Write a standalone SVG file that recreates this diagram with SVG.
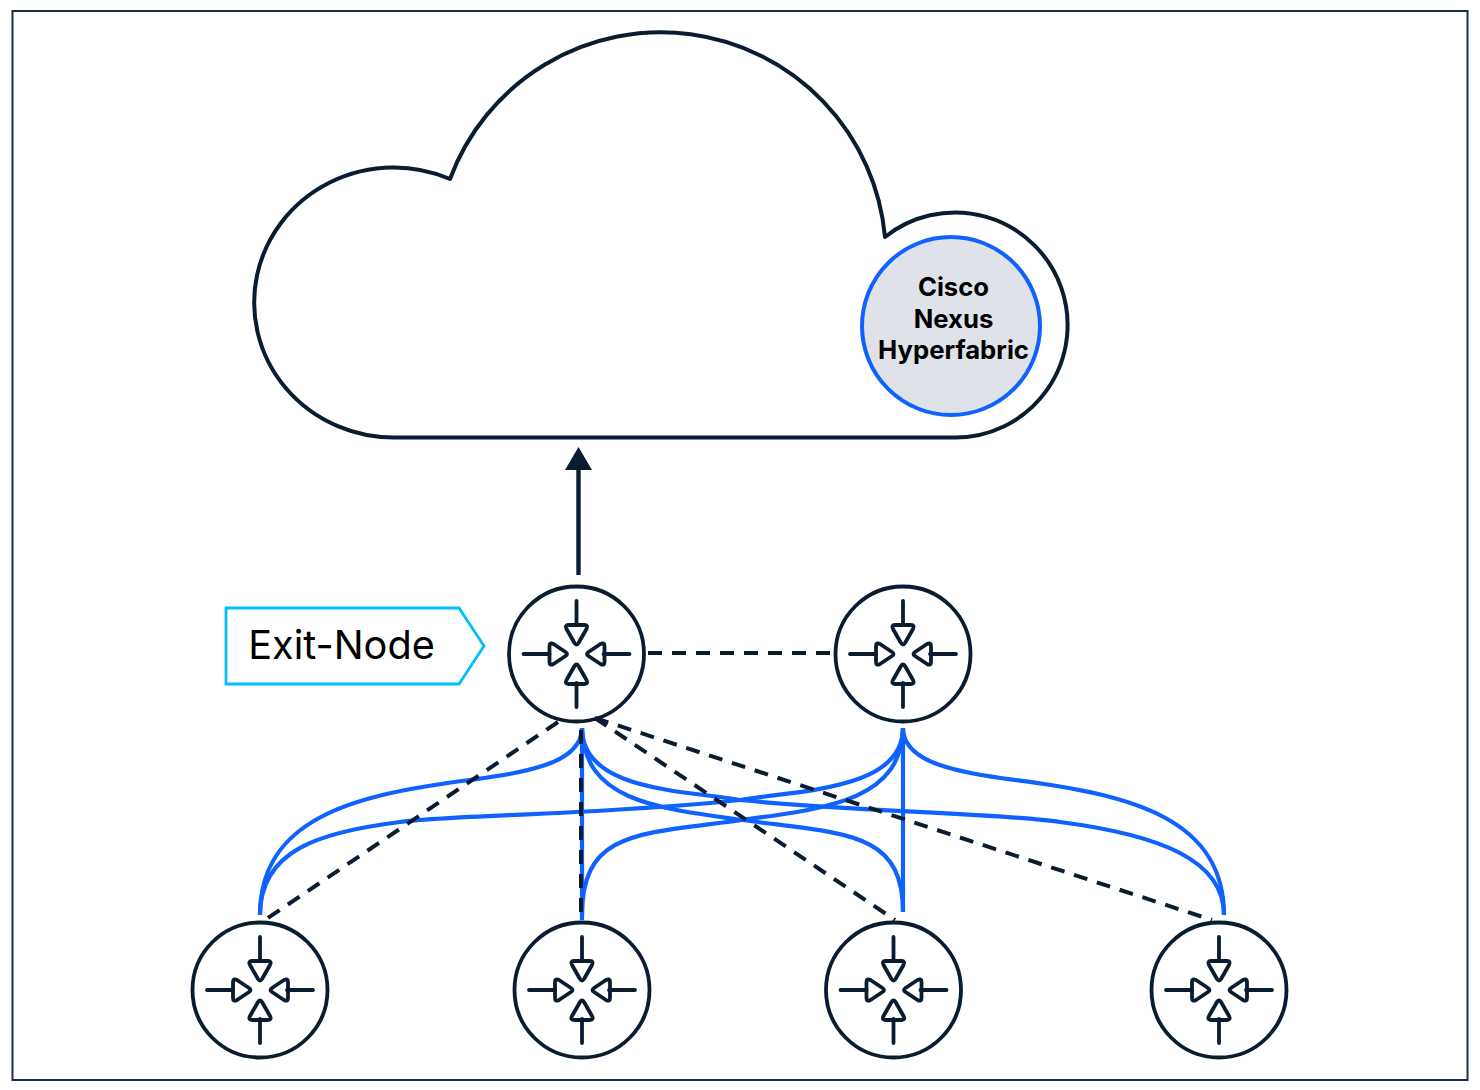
<svg xmlns="http://www.w3.org/2000/svg" width="1480" height="1090" viewBox="0 0 1480 1090">
<style>
.d{fill:none;stroke:#0a1c30;stroke-width:3.8;stroke-linejoin:round;stroke-linecap:round}
.b{fill:none;stroke:#0f62fe;stroke-width:4.2}
.k{fill:none;stroke:#0a1c30;stroke-width:4;stroke-dasharray:14 10}
.t{font-family:"Inter","Liberation Sans",sans-serif;fill:#000;text-anchor:middle}
</style>
<defs>
<g id="router">
<circle class="d" r="67.500"/>
<path class="d" d="M0-53V-29M0 53V29M-53 0H-27M53 0H27"/>
<path class="d" d="M-8-29H8Q12-29 10-25L2-11Q0-8-2-11L-10-25Q-12-29-8-29Z"/>
<path class="d" d="M-8 30H8Q12 30 10 26L2 12Q0 9-2 12L-10 26Q-12 30-8 30Z"/>
<path class="d" d="M-27-8V8Q-27 12-23 10L-11 2Q-8 0-11-2L-23-10Q-27-12-27-8Z"/>
<path class="d" d="M28-8V8Q28 12 24 10L12 2Q9 0 12-2L24-10Q28-12 28-8Z"/>
</g>
</defs>
<rect width="1480" height="1090" fill="#fff"/>
<rect x="12.500" y="11" width="1455" height="1069" fill="none" stroke="#1c2f42" stroke-width="2"/>
<g id="cloud">
<path d="M450 179A225 225 0 0 1 885 237A112.500 112.500 0 1 1 955 437.500L395 437.500A139.500 135 0 1 1 450 179Z" fill="#fff" stroke="#0a1c30" stroke-width="4" stroke-linejoin="round"/>
</g>
<g id="connectors">
<path class="b" d="M582 728V920"/>
<path class="b" d="M903 728V912"/>
<path class="b" d="M582 728C582 765 520 773 470 780C350 795 260 820 260 915"/>
<path class="b" d="M903 728C903 790 800 790 740 800C600 815 450 815 400 822C320 832 260 850 260 915"/>
<path class="b" d="M582 728C584 800 654 808 742 820C844 834 903 830 903 912"/>
<path class="b" d="M582 728C582 790 680 790 740 800C860 812 1000 813 1060 822C1160 835 1224 860 1224 915"/>
<path class="b" d="M903 728C901 800 830 808 742 820C640 834 582 830 582 915"/>
<path class="b" d="M903 728C903 765 965 773 1015 780C1135 795 1224 820 1224 915"/>
<path class="k" d="M648 653H836"/>
<path class="k" d="M558 722L262 922"/>
<path class="k" d="M581 730V922"/>
<path class="k" d="M595 718L895 920"/>
<path class="k" d="M595 718L1212 920"/>
<path d="M578.500 575V470" fill="none" stroke="#0a1c30" stroke-width="4.400"/>
<path d="M565 470H592L578.500 447Z" fill="#0a1c30"/>
</g>
<g id="hyperfabric">
<circle cx="951" cy="326" r="89" fill="#dfe2e9" stroke="#0f62fe" stroke-width="4"/>
<text class="t" font-size="25.700" font-weight="700" x="953.500" y="296">Cisco</text>
<text class="t" font-size="25.700" font-weight="700" x="953.500" y="328">Nexus</text>
<text class="t" font-size="25.700" font-weight="700" x="953.500" y="359">Hyperfabric</text>
</g>
<g id="exit-node">
<path d="M226 608H459L484 646L459 684H226Z" fill="#fff" stroke="#00bfff" stroke-width="2.800"/>
<text class="t" font-size="39.700" x="341.500" y="659">Exit-Node</text>
</g>
<g id="router-exit"><use href="#router" x="576.500" y="654"/></g>
<g id="router-peer"><use href="#router" x="903" y="654"/></g>
<g id="router-1"><use href="#router" x="260" y="990"/></g>
<g id="router-2"><use href="#router" x="582" y="990"/></g>
<g id="router-3"><use href="#router" x="893.500" y="990"/></g>
<g id="router-4"><use href="#router" x="1219" y="990"/></g>
</svg>
